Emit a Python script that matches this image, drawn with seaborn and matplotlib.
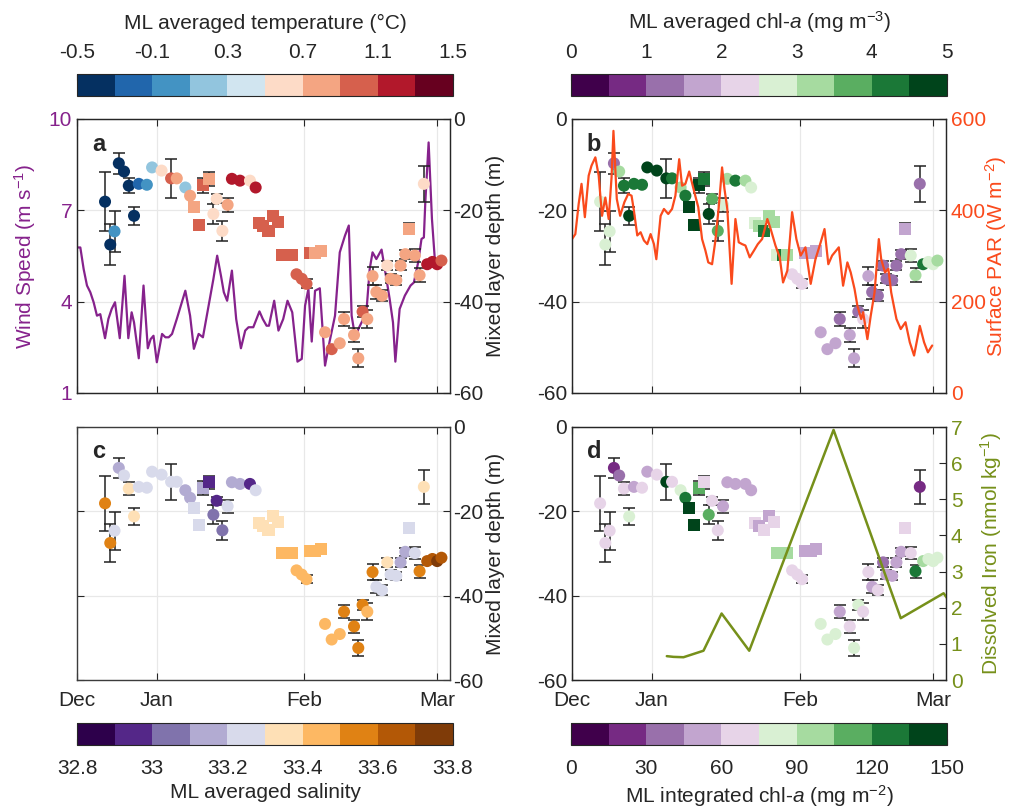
import matplotlib
matplotlib.use("Agg")
import matplotlib.pyplot as plt
from matplotlib.colors import ListedColormap, Normalize
from matplotlib.cm import ScalarMappable
import numpy as np
import pandas as pd
import seaborn as sns

sns.set_style("white")
plt.rcParams["font.family"] = ["Liberation Sans", "DejaVu Sans"]
plt.rcParams["mathtext.fontset"] = "custom"
plt.rcParams["mathtext.rm"] = "Liberation Sans"
plt.rcParams["mathtext.it"] = "Liberation Sans:italic"
plt.rcParams["mathtext.bf"] = "Liberation Sans:bold"
plt.rcParams["axes.unicode_minus"] = False
plt.rcParams["font.size"] = 15

# ---- mixed layer samples (day counted from 1 Dec) ----
ml_day = np.array([
    20.1, 21.2, 22.1, 23.0, 24.1, 25.1, 26.2, 27.2, 28.9, 30.0,
    32.0, 34.0, 35.2, 37.0, 38.0, 38.8, 39.8, 40.8, 42.0, 42.9,
    43.6, 44.8, 45.9, 46.8, 48.5, 50.6, 51.8, 52.6, 53.4, 54.5,
    55.5, 56.6, 57.3, 58.4, 59.4, 60.4, 61.5, 62.5, 63.2, 64.3,
    65.5, 66.4, 67.8, 69.5, 70.4, 72.5, 73.4, 74.3, 75.3, 76.4,
    77.2, 78.4, 79.5, 80.2, 81.4, 82.3, 83.3, 84.1, 85.3, 86.3,
    87.2, 87.9, 89.0, 90.0, 90.9])
ml_depth = np.array([
    -18.1, -27.5, -24.6, -9.7, -11.5, -14.6, -21.2, -14.2, -14.4, -10.6,
    -11.3, -13.0, -13.0, -15.0, -16.8, -19.3, -23.2, -14.5, -13.1, -20.8,
    -17.5, -24.5, -18.8, -13.1, -13.5, -13.5, -15.0, -22.8, -23.4, -24.5,
    -21.2, -22.6, -29.8, -29.8, -29.8, -34.0, -35.0, -36.1, -29.3, -29.3,
    -29.0, -46.7, -50.4, -49.1, -43.8, -47.3, -52.4, -42.2, -43.8, -34.4,
    -37.9, -38.7, -32.1, -35.0, -35.3, -32.1, -29.6, -24.0, -29.9, -34.2,
    -14.2, -31.8, -31.3, -31.8, -31.0])
ml_err = np.array([
    6.5, 4.5, 4.5, 2.3, 0, 1.6, 2.0, 0, 0, 0,
    0, 4.2, 0, 0, 0, 0, 0, 1.6, 1.5, 2.2,
    1.0, 2.2, 1.5, 0, 0, 0, 0, 1.0, 0, 1.0,
    1.0, 0, 0.6, 0, 0.6, 0, 0, 1.0, 0.6, 0,
    0.6, 0, 0, 0, 1.5, 1.5, 2.0, 1.2, 2.0, 2.0,
    1.5, 1.2, 1.0, 1.0, 1.0, 1.0, 1.0, 1.2, 1.5, 1.5,
    4.0, 0, 0, 0, 0])
ml_marker = (["o"] * 15 + ["s"] * 4 + ["o"] * 8 + ["s"] * 8
             + ["o"] * 3 + ["s"] * 3 + ["o"] * 16 + ["s"] + ["o"] * 7)

ml_temp = np.array([
    -0.40, -0.40, 0.05, -0.35, -0.40, -0.35, -0.40, -0.20, -0.05, 0.20,
    0.55, 1.00, 0.75, 0.25, 0.80, 0.75, 1.00, 0.95, 0.80, 0.60,
    0.62, 0.60, 0.80, 1.20, 1.20, 0.68, 1.25, 1.00, 1.00, 1.00,
    0.95, 1.00, 1.00, 1.00, 0.95, 1.00, 1.00, 0.95, 0.95, 0.80,
    0.75, 0.75, 0.92, 0.80, 0.75, 0.78, 0.72, 0.95, 0.80, 0.80,
    0.75, 0.78, 0.62, 0.78, 0.80, 0.80, 0.75, 0.85, 0.72, 0.78,
    0.62, 1.20, 1.15, 1.20, 1.05])
ml_chl = np.array([
    2.6, 2.9, 2.8, 1.2, 3.1, 4.3, 4.8, 4.2, 4.1, 4.6,
    4.7, 4.6, 4.4, 3.2, 4.3, 4.8, 4.8, 4.6, 4.2, 4.7,
    3.7, 3.8, 2.6, 3.3, 4.3, 3.3, 2.9, 2.6, 3.2, 4.3,
    3.2, 3.1, 2.6, 4.3, 3.2, 2.4, 2.2, 2.3, 1.8, 1.7,
    1.8, 1.8, 1.8, 1.7, 1.4, 1.6, 1.7, 1.3, 2.2, 1.7,
    1.3, 1.3, 1.2, 1.3, 1.3, 1.3, 1.1, 1.8, 2.8, 3.3,
    1.1, 4.3, 2.9, 2.9, 3.1])
ml_sal = np.array([
    33.55, 33.58, 33.28, 33.12, 33.24, 33.35, 33.38, 33.22, 33.22, 33.22,
    33.22, 33.25, 33.25, 33.14, 33.15, 33.24, 33.22, 33.12, 32.98, 33.05,
    32.98, 33.05, 33.22, 33.12, 33.15, 32.95, 33.22, 33.35, 33.33, 33.35,
    33.32, 33.36, 33.45, 33.45, 33.45, 33.47, 33.47, 33.47, 33.45, 33.45,
    33.45, 33.45, 33.45, 33.45, 33.55, 33.55, 33.57, 33.55, 33.45, 33.55,
    33.28, 33.28, 33.32, 33.22, 33.22, 33.12, 33.12, 33.24, 33.25, 33.55,
    33.35, 33.68, 33.68, 33.70, 33.68])
ml_int_chl = np.array([
    70, 72, 65, 22, 38, 66, 84, 52, 63, 52,
    63, 142, 70, 84, 128, 142, 142, 112, 66, 112,
    63, 73, 55, 55, 52, 47, 55, 72, 55, 68,
    58, 66, 98, 98, 96, 72, 70, 74, 52, 52,
    55, 88, 86, 88, 50, 73, 78, 85, 73, 62,
    50, 66, 37, 47, 47, 50, 55, 70, 72, 128,
    22, 95, 80, 88, 85])

# ---- time series lines ----
wind_day = [14.2, 14.9, 15.6, 16.3, 17.0, 17.7, 18.4, 19.1, 20.1, 20.8,
            21.5, 22.2, 23.2, 24.2, 25.0, 25.7, 26.2, 27.2, 28.2, 29.1,
            29.7, 30.3, 31.0, 32.1, 32.8, 33.5, 34.2, 35.2, 37.0, 38.0,
            38.8, 39.8, 40.7, 41.9, 42.9, 43.7, 44.5, 45.1, 45.8, 46.8,
            47.7, 48.7, 49.6, 50.3, 51.3, 52.6, 53.3, 54.1, 54.6, 55.7,
            56.6, 57.6, 58.5, 59.5, 60.6, 61.5, 62.2, 62.9, 63.6, 64.3,
            65.3, 66.4, 67.4, 68.5, 69.5, 70.6, 71.4, 72.0, 72.8, 73.4,
            74.1, 75.1, 75.8, 76.4, 77.2, 78.3, 79.1, 80.0, 80.7, 81.2,
            82.1, 83.2, 84.4, 85.1, 86.0, 86.7, 87.2, 87.5, 88.2, 88.9, 89.5]
wind_speed = [5.78, 5.78, 5.07, 4.53, 4.31, 3.98, 3.54, 3.59, 2.80, 3.43,
              3.76, 3.98, 2.80, 4.85, 2.80, 3.65, 3.32, 2.14, 4.53, 2.47,
              2.77, 2.88, 2.01, 2.94, 2.83, 2.83, 2.94, 3.43, 4.36, 3.54,
              2.45, 2.94, 2.83, 3.87, 4.74, 5.51, 4.85, 4.31, 4.03, 5.02,
              3.43, 2.47, 3.05, 3.16, 3.16, 3.68, 3.43, 3.21, 3.21, 4.03,
              3.05, 3.43, 4.03, 3.65, 2.03, 2.12, 3.87, 4.42, 2.69, 4.36,
              4.44, 1.90, 2.72, 3.54, 5.62, 6.17, 6.50, 3.54, 2.77, 3.10,
              3.32, 3.65, 5.07, 5.62, 5.40, 5.71, 4.96, 4.09, 3.32, 2.03,
              3.76, 4.20, 4.53, 4.63, 5.29, 6.06, 6.11, 7.26, 9.23, 6.72, 5.40]

par_day = [14.2, 14.9, 15.6, 16.2, 16.9, 17.7, 18.3, 19.1, 19.8, 20.5,
           21.2, 21.9, 22.5, 22.9, 23.6, 24.3, 25.2, 26.0, 26.7, 27.2,
           27.9, 28.6, 29.3, 30.0, 30.7, 31.4, 31.9, 32.8, 33.5, 34.4,
           35.2, 35.9, 36.7, 37.3, 38.0, 38.8, 39.8, 40.7, 41.5, 42.2,
           42.8, 43.6, 44.3, 45.0, 45.7, 46.2, 46.8, 47.7, 48.5, 49.2,
           49.9, 50.6, 51.5, 52.4, 53.2, 54.1, 55.2, 55.9, 56.9, 57.8,
           58.5, 59.4, 60.4, 61.3, 62.2, 63.2, 64.3, 65.3, 66.4, 67.2,
           68.0, 68.8, 70.2, 71.1, 72.0, 72.7, 73.5, 74.1, 74.9, 75.3,
           76.2, 76.9, 77.7, 78.6, 79.1, 79.9, 80.6, 81.2, 81.8, 82.3,
           83.2, 84.2, 85.1, 86.0, 87.2, 88.1, 88.9, 89.8]
par_value = [337, 348, 414, 458, 385, 476, 498, 516, 476, 388,
             428, 381, 472, 574, 425, 388, 418, 436, 432, 399,
             345, 352, 334, 326, 348, 326, 293, 388, 403, 392,
             403, 432, 512, 454, 458, 485, 443, 407, 337, 312,
             286, 282, 334, 407, 494, 447, 403, 239, 381, 330,
             326, 323, 297, 312, 326, 337, 381, 359, 323, 297,
             242, 268, 396, 337, 301, 319, 239, 293, 330, 359,
             282, 301, 319, 235, 286, 264, 228, 191, 162, 177,
             118, 169, 220, 337, 293, 264, 272, 220, 188, 162,
             140, 155, 111, 82, 147, 111, 89, 104]

iron_day = [34.1, 35.5, 37.6, 41.8, 45.6, 51.4, 69.1, 83.2, 92.2, 93.0]
iron_value = [0.66, 0.64, 0.63, 0.81, 1.84, 0.81, 6.92, 1.71, 2.40, 2.25]

month_ticks = [14.2, 31, 62, 90]
month_labels = ["Dec", "Jan", "Feb", "Mar"]

# ColorBrewer 10-class palettes
temp_cmap = ListedColormap(["#053061", "#2166ac", "#4393c3", "#92c5de", "#d1e5f0",
                            "#fddbc7", "#f4a582", "#d6604d", "#b2182b", "#67001f"])
chl_cmap = ListedColormap(["#40004b", "#762a83", "#9970ab", "#c2a5cf", "#e7d4e8",
                           "#d9f0d3", "#a6dba0", "#5aae61", "#1b7837", "#00441b"])
sal_cmap = ListedColormap(["#2d004b", "#542788", "#8073ac", "#b2abd2", "#d8daeb",
                           "#fee0b6", "#fdb863", "#e08214", "#b35806", "#7f3b08"])

WIND_C = "#86228c"
PAR_C = "#fa4a1c"
IRON_C = "#76901a"
XLIM = (14.2, 92.7)

fig = plt.figure(figsize=(10.28, 8.10), dpi=100)


def rect(left, top, right, bottom):
    return [left / 1028, 1 - bottom / 810, (right - left) / 1028, (bottom - top) / 810]


def draw_points(ax, values, cmap, vmin, vmax):
    has_err = ml_err > 0
    ax.errorbar(ml_day[has_err], ml_depth[has_err], yerr=ml_err[has_err], fmt="none",
                ecolor="#222222", elinewidth=1.1, capsize=4, capthick=1.1, zorder=2)
    df = pd.DataFrame({"day": ml_day, "depth": ml_depth, "val": values, "kind": ml_marker})
    sns.scatterplot(data=df, x="day", y="depth", hue="val", palette=cmap,
                    hue_norm=Normalize(vmin, vmax), style="kind",
                    markers={"o": "o", "s": "s"}, s=75, linewidth=0,
                    legend=False, ax=ax, zorder=3)
    ax.set_xlabel("")
    ax.set_ylabel("")


def base_style(ax, xlabels):
    ax.set_xlim(XLIM)
    ax.set_xticks(month_ticks)
    ax.set_xticklabels(month_labels if xlabels else [])
    ax.tick_params(axis="x", direction="in", top=True, bottom=True, length=5,
                   labelsize=15, pad=8)
    ax.grid(True, color="#e8e8e8", lw=0.9)
    for sp in ax.spines.values():
        sp.set_color("#3c3c3c")
        sp.set_linewidth(1.0)


def mld_limits(ax):
    ax.set_ylim(-60, 0)
    ax.set_yticks([0, -20, -40, -60])


# ---- panel a: wind + temperature ----
ax_a = fig.add_axes(rect(77, 119, 450, 393))
base_style(ax_a, False)
sns.lineplot(x=wind_day, y=wind_speed, ax=ax_a, color=WIND_C, lw=1.6,
             estimator=None, sort=False)
ax_a.set_ylim(1, 10)
ax_a.set_yticks([1, 4, 7, 10])
ax_a.tick_params(axis="y", direction="in", length=5, labelsize=15, labelcolor=WIND_C)
ax_a.set_ylabel("Wind Speed (m s$^{-1}$)", color=WIND_C, fontsize=15)
ax_a.yaxis.set_label_coords(-0.105, 0.5)
tw_a = ax_a.twinx()
draw_points(tw_a, ml_temp, temp_cmap, -0.5, 1.5)
mld_limits(tw_a)
tw_a.tick_params(axis="y", direction="in", length=5, labelsize=15, pad=2)
tw_a.text(0.04, 0.95, "a", transform=tw_a.transAxes, fontsize=17, fontweight="bold", va="top")

# ---- panel b: PAR + chl ----
ax_b = fig.add_axes(rect(572, 119, 946, 393))
base_style(ax_b, False)
draw_points(ax_b, ml_chl, chl_cmap, 0, 5)
mld_limits(ax_b)
ax_b.tick_params(axis="y", direction="in", length=5, labelsize=15)
ax_b.set_ylabel("Mixed layer depth (m)", fontsize=15)
ax_b.yaxis.set_label_coords(-0.178, 0.5)
tw_b = ax_b.twinx()
sns.lineplot(x=par_day, y=par_value, ax=tw_b, color=PAR_C, lw=1.6,
             estimator=None, sort=False)
tw_b.set_ylim(0, 600)
tw_b.set_yticks([0, 200, 400, 600])
tw_b.tick_params(axis="y", direction="in", length=5, labelsize=15, labelcolor=PAR_C)
tw_b.set_ylabel("Surface PAR (W m$^{-2}$)", color=PAR_C, fontsize=15)
tw_b.yaxis.set_label_coords(1.10, 0.5)
tw_b.text(0.04, 0.95, "b", transform=tw_b.transAxes, fontsize=17, fontweight="bold", va="top")

# ---- panel c: salinity ----
ax_c = fig.add_axes(rect(77, 427, 450, 680))
base_style(ax_c, True)
draw_points(ax_c, ml_sal, sal_cmap, 32.8, 33.8)
mld_limits(ax_c)
ax_c.tick_params(axis="y", direction="in", length=5, labelsize=15, left=True, right=True,
                 labelleft=False, labelright=True, pad=2)
ax_c.text(0.04, 0.95, "c", transform=ax_c.transAxes, fontsize=17, fontweight="bold", va="top")

# ---- panel d: iron + integrated chl ----
ax_d = fig.add_axes(rect(572, 427, 946, 680))
base_style(ax_d, True)
draw_points(ax_d, ml_int_chl, chl_cmap, 0, 150)
mld_limits(ax_d)
ax_d.tick_params(axis="y", direction="in", length=5, labelsize=15)
ax_d.set_ylabel("Mixed layer depth (m)", fontsize=15)
ax_d.yaxis.set_label_coords(-0.178, 0.5)
tw_d = ax_d.twinx()
sns.lineplot(x=iron_day, y=iron_value, ax=tw_d, color=IRON_C, lw=1.8,
             estimator=None, sort=False)
tw_d.set_ylim(0, 7)
tw_d.set_yticks(range(8))
tw_d.set_xlim(XLIM)
tw_d.tick_params(axis="y", direction="in", length=5, labelsize=15, labelcolor=IRON_C)
tw_d.set_ylabel("Dissolved Iron (nmol kg$^{-1}$)", color=IRON_C, fontsize=15)
tw_d.yaxis.set_label_coords(1.085, 0.5)
tw_d.text(0.04, 0.95, "d", transform=tw_d.transAxes, fontsize=17, fontweight="bold", va="top")


# ---- colour bars ----
def add_cbar(box, cmap, vmin, vmax, ticks, ticklabels, label, top):
    cax = fig.add_axes(rect(*box))
    cb = fig.colorbar(ScalarMappable(norm=Normalize(vmin, vmax), cmap=cmap), cax=cax,
                      orientation="horizontal", ticks=ticks)
    cb.ax.set_xticklabels(ticklabels)
    cb.outline.set_linewidth(0.8)
    if top:
        cb.ax.tick_params(direction="in", length=4, labelsize=15, pad=9)
        cb.ax.xaxis.set_ticks_position("top")
        cb.ax.xaxis.set_label_position("top")
        cb.set_label(label, fontsize=15, labelpad=10)
    else:
        cb.ax.tick_params(direction="in", length=4, labelsize=15, pad=10)
        cb.set_label(label, fontsize=15, labelpad=4)


add_cbar((77, 74, 453, 96), temp_cmap, -0.5, 1.5, [-0.5, -0.1, 0.3, 0.7, 1.1, 1.5],
         ["-0.5", "-0.1", "0.3", "0.7", "1.1", "1.5"],
         "ML averaged temperature (°C)", True)
add_cbar((571, 74, 947, 96), chl_cmap, 0, 5, [0, 1, 2, 3, 4, 5],
         ["0", "1", "2", "3", "4", "5"],
         "ML averaged chl-$a$ (mg m$^{-3}$)", True)
add_cbar((77, 723, 453, 745), sal_cmap, 32.8, 33.8, [32.8, 33.0, 33.2, 33.4, 33.6, 33.8],
         ["32.8", "33", "33.2", "33.4", "33.6", "33.8"],
         "ML averaged salinity", False)
add_cbar((571, 723, 947, 745), chl_cmap, 0, 150, [0, 30, 60, 90, 120, 150],
         ["0", "30", "60", "90", "120", "150"],
         "ML integrated chl-$a$ (mg m$^{-2}$)", False)

fig.savefig("out.png", dpi=100, facecolor="white")
